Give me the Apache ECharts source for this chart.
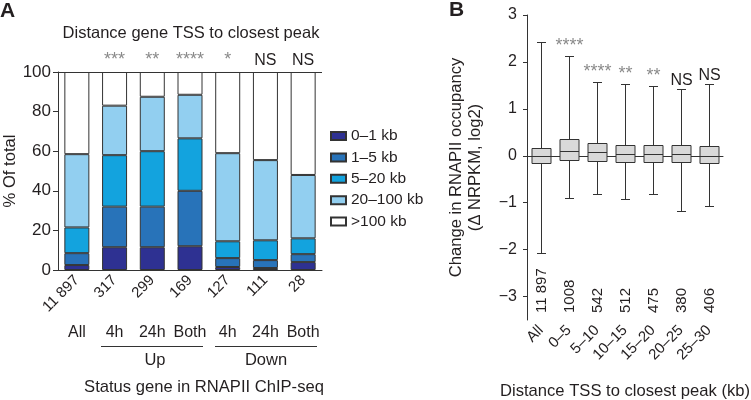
<!DOCTYPE html>
<html><head><meta charset="utf-8">
<script src="https://cdn.jsdelivr.net/npm/echarts@6/dist/echarts.min.js"></script>
<style>html,body{margin:0;padding:0;background:#fff}#c{width:751px;height:400px}</style>
</head><body><div id="c"></div>
<script>
// ---- Panel A data ----
const groupsA = ['All','4h','24h','Both','4h','24h','Both'];
const countsA = ['11 897','317','299','169','127','111','28'];
const sigA = ['','***','**','****','*','NS','NS'];
const binNames = ['0–1 kb','1–5 kb','5–20 kb','20–100 kb','>100 kb'];
const bin01 = [2.5, 11.5, 11.5, 12, 1.5, 1, 4];
const bin15 = [6, 20.5, 20.5, 28, 4.5, 4, 4];
const bin520 = [13, 26, 28, 26.5, 8.5, 10, 8];
const bin20100 = [37, 25, 27.5, 22, 44.5, 40.5, 32];
const bin100 = [41.5, 17, 12.5, 11.5, 41, 44.5, 52];
const ticksA = [0, 20, 40, 60, 80, 100];

// ---- Panel B data ----
const catsB = ['All','0–5','5–10','10–15','15–20','20–25','25–30'];
const countsB = ['11 897','1008','542','512','475','380','406'];
const sigB = ['','****','****','**','**','NS','NS'];
const whiskLow = [-2.08, -0.89, -0.81, -0.93, -0.81, -1.18, -1.06];
const q1 = [-0.15, -0.09, -0.11, -0.13, -0.13, -0.14, -0.15];
const med = [0, 0.11, 0.08, 0.04, 0.04, 0.03, 0];
const q3 = [0.17, 0.36, 0.28, 0.23, 0.23, 0.22, 0.2];
const whiskHigh = [2.42, 2.13, 1.58, 1.52, 1.48, 1.42, 1.53];
const ticksB = [-3, -2, -1, 0, 1, 2, 3];

const FONT = "'Liberation Sans', Arial, Helvetica, sans-serif";
const TXT = '#231f20';
const STAR = '#8a8a8a';
const colorsA = ['#2e3192', '#2873b9', '#13a3de', '#92cff0', '#ffffff'];
const binData = [bin01, bin15, bin520, bin20100, bin100];
const minus = v => (v < 0 ? '\u2212' + Math.abs(v) : String(v));

const chart = echarts.init(document.getElementById('c'));

const seriesA = binNames.map((name, k) => {
  const s = {
    name, type: 'bar', stack: 'a', xAxisIndex: 0, yAxisIndex: 0, barWidth: 25,
    data: binData[k],
    itemStyle: { color: colorsA[k], borderColor: '#333', borderWidth: 1 },
    emphasis: { disabled: true },
    label: { show: false }
  };
  if (k === 4) {
    s.label = {
      show: true, position: 'top', distance: 3,
      formatter: p => {
        const t = sigA[p.dataIndex];
        if (!t) return '';
        return t === 'NS' ? '{n|NS}' : '{s|' + t + '}';
      },
      rich: {
        n: { fontSize: 16, color: TXT, fontFamily: FONT },
        s: { fontSize: 18, color: STAR, fontFamily: FONT }
      }
    };
    s.markLine = {
      silent: true, symbol: 'none', label: { show: false },
      lineStyle: { color: '#333', width: 1, type: 'solid' },
      data: [{ yAxis: 100 }]
    };
  }
  return s;
});

const boxData = catsB.map((c, i) => [i, whiskLow[i], q1[i], med[i], q3[i], whiskHigh[i]]);

function renderBox(params, api) {
  const i = api.value(0);
  const cx = Math.round(api.coord([i, 0])[0]) + 0.5;
  const y = k => Math.round(api.coord([i, api.value(k)])[1]) + 0.5;
  const yLo = y(1), yQ1 = y(2), yMed = y(3), yQ3 = y(4), yHi = y(5);
  const yBase = api.coord([i, -3.5])[1];
  const bw = 19, cw = 9;
  const ls = { stroke: '#333', lineWidth: 1 };
  const isNS = sigB[i] === 'NS';
  return {
    type: 'group',
    children: [
      { type: 'line', shape: { x1: cx, y1: yHi, x2: cx, y2: yQ3 }, style: ls },
      { type: 'line', shape: { x1: cx, y1: yQ1, x2: cx, y2: yLo }, style: ls },
      { type: 'line', shape: { x1: cx - cw / 2, y1: yHi, x2: cx + cw / 2, y2: yHi }, style: ls },
      { type: 'line', shape: { x1: cx - cw / 2, y1: yLo, x2: cx + cw / 2, y2: yLo }, style: ls },
      { type: 'rect', shape: { x: cx - bw / 2, y: yQ3, width: bw, height: yQ1 - yQ3 },
        style: { fill: '#d9d9d9', stroke: '#333', lineWidth: 1 } },
      { type: 'line', shape: { x1: cx - bw / 2, y1: yMed, x2: cx + bw / 2, y2: yMed }, style: ls },
      { type: 'text', x: cx, y: yHi - 1,
        style: { text: sigB[i], align: 'center', verticalAlign: 'bottom',
          fill: isNS ? TXT : STAR, font: (isNS ? '16px ' : '18px ') + FONT } },
      { type: 'text', x: cx, y: yBase - 7, rotation: Math.PI / 2,
        style: { text: countsB[i], align: 'left', verticalAlign: 'middle',
          fill: TXT, font: '15px ' + FONT } }
    ]
  };
}

const option = {
  animation: false,
  backgroundColor: '#fff',
  textStyle: { fontFamily: FONT, color: TXT },
  grid: [
    { left: 58, top: 72, width: 264, height: 198, outerBoundsMode: 'none', containLabel: false },
    { left: 527, top: 15, width: 196, height: 305, outerBoundsMode: 'none', containLabel: false }
  ],
  legend: {
    orient: 'vertical', left: 325, top: 123,
    itemWidth: 15, itemHeight: 8, itemGap: 5.4, icon: 'rect',
    textStyle: { fontSize: 15.5, color: TXT, fontFamily: FONT, lineHeight: 15 },
    data: binNames, selectedMode: false
  },
  xAxis: [
    { type: 'category', gridIndex: 0, data: countsA,
      axisLine: { lineStyle: { color: '#333' } },
      axisTick: { alignWithLabel: true, length: 5, lineStyle: { color: '#333' } },
      axisLabel: { rotate: 45, fontSize: 15, color: TXT, margin: 8, fontFamily: FONT } },
    { type: 'category', gridIndex: 0, data: groupsA, position: 'bottom', offset: 50,
      axisLine: { show: false }, axisTick: { show: false },
      axisLabel: { fontSize: 16, color: TXT, margin: 5, fontFamily: FONT, interval: 0 } },
    { type: 'category', gridIndex: 1, data: catsB,
      axisLine: { lineStyle: { color: '#333' } },
      axisTick: { alignWithLabel: true, length: 5, lineStyle: { color: '#333' } },
      axisLabel: { rotate: 45, fontSize: 15, color: TXT, margin: 8, fontFamily: FONT, interval: 0 },
      name: 'Distance TSS to closest peak (kb)', nameLocation: 'middle', nameGap: 63,
      nameTextStyle: { fontSize: 16.6, color: TXT, fontFamily: FONT } }
  ],
  yAxis: [
    { type: 'value', gridIndex: 0, min: 0, max: 100, interval: 20,
      axisLine: { show: true, lineStyle: { color: '#333' } },
      axisTick: { show: true, length: 5, lineStyle: { color: '#333' }, customValues: ticksA },
      axisLabel: { fontSize: 17, color: TXT, margin: 7, fontFamily: FONT, customValues: ticksA },
      splitLine: { show: false },
      name: '% Of total', nameLocation: 'middle', nameGap: 35, nameRotate: 90,
      nameTextStyle: { fontSize: 16.6, color: TXT, fontFamily: FONT } },
    { type: 'value', gridIndex: 1, min: -3.5, max: 3,
      axisLine: { show: true, lineStyle: { color: '#333' } },
      axisTick: { show: true, length: 4, lineStyle: { color: '#333' }, customValues: ticksB },
      axisLabel: { fontSize: 16, color: TXT, margin: 10, fontFamily: FONT, customValues: ticksB, formatter: minus },
      splitLine: { show: false },
      name: 'Change in RNAPII occupancy\n(\u0394 NRPKM, log2)', nameLocation: 'middle', nameGap: 42, nameRotate: 90,
      nameTextStyle: { fontSize: 16.6, color: TXT, fontFamily: FONT, lineHeight: 19 } }
  ],
  series: seriesA.concat([
    { type: 'line', xAxisIndex: 2, yAxisIndex: 1, data: [], z: 1, silent: true,
      markLine: { silent: true, symbol: 'none', label: { show: false },
        lineStyle: { color: '#333', width: 1, type: [1.5, 2] }, data: [{ yAxis: 0 }] } },
    { type: 'custom', xAxisIndex: 2, yAxisIndex: 1, data: boxData, renderItem: renderBox,
      clip: false, silent: true, z: 5 }
  ]),
  graphic: [
    { type: 'text', left: 0, top: 1, style: { text: 'A', font: 'bold 21px ' + FONT, fill: TXT } },
    { type: 'text', left: 449, top: 0, style: { text: 'B', font: 'bold 21px ' + FONT, fill: TXT } },
    { type: 'text', x: 191, y: 33, style: { text: 'Distance gene TSS to closest peak', align: 'center', verticalAlign: 'middle', font: '16.5px ' + FONT, fill: TXT } },
    { type: 'line', shape: { x1: 101, y1: 346.5, x2: 203, y2: 346.5 }, style: { stroke: '#333', lineWidth: 1 } },
    { type: 'line', shape: { x1: 215, y1: 346.5, x2: 317, y2: 346.5 }, style: { stroke: '#333', lineWidth: 1 } },
    { type: 'text', x: 155, y: 360, style: { text: 'Up', align: 'center', verticalAlign: 'middle', font: '16.5px ' + FONT, fill: TXT } },
    { type: 'text', x: 266, y: 360, style: { text: 'Down', align: 'center', verticalAlign: 'middle', font: '16.5px ' + FONT, fill: TXT } },
    { type: 'text', x: 204, y: 387, style: { text: 'Status gene in RNAPII ChIP-seq', align: 'center', verticalAlign: 'middle', font: '16.6px ' + FONT, fill: TXT } }
  ]
};
chart.setOption(option);
</script>
</body></html>
